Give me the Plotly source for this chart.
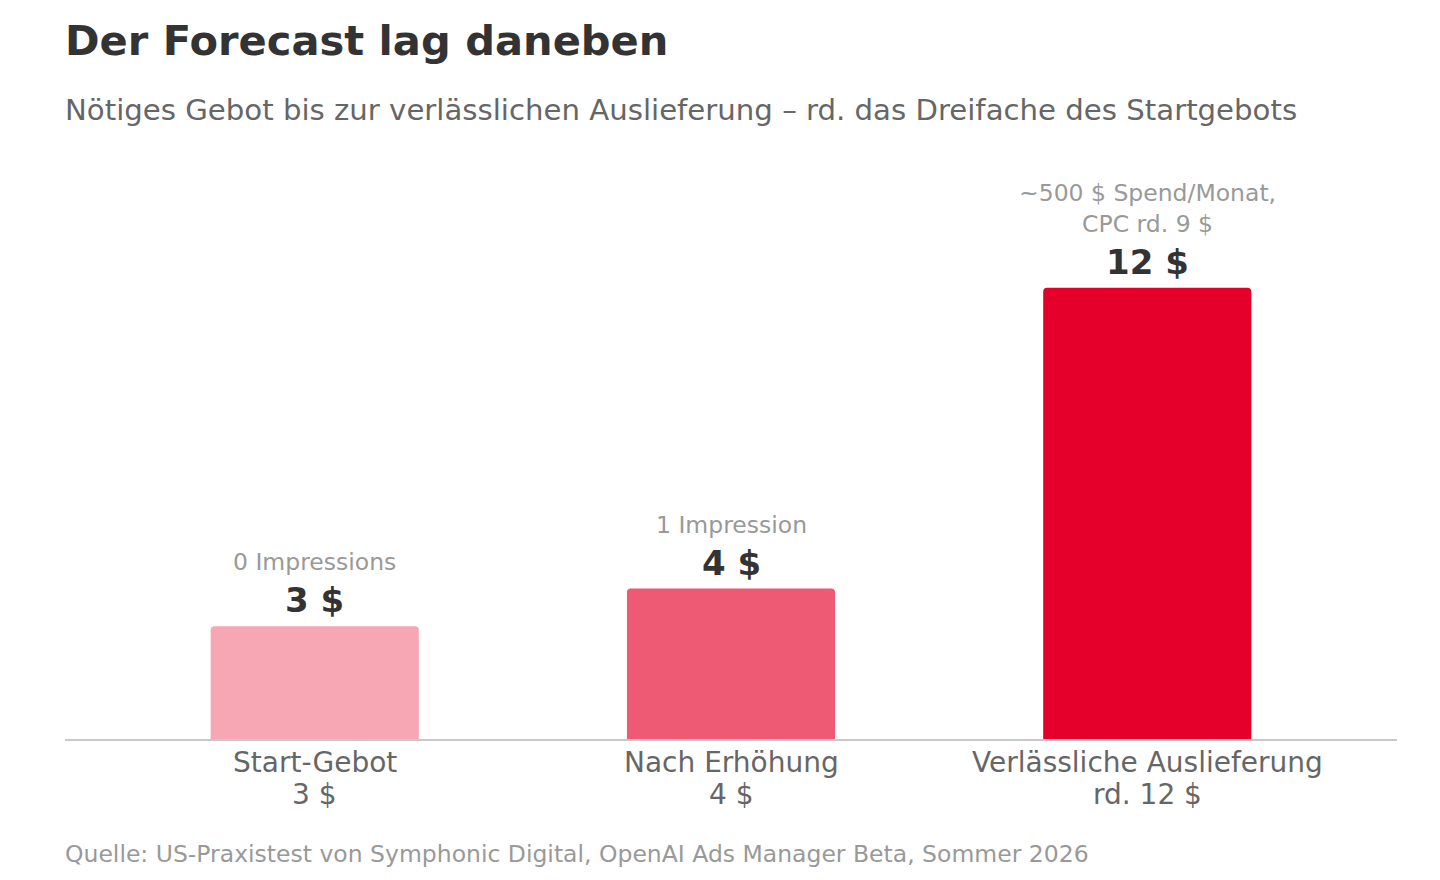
import plotly.graph_objects as go

categories = ["Start-Gebot", "Nach Erhöhung", "Verlässliche Auslieferung"]
category_sub = ["3 $", "4 $", "rd. 12 $"]
values = [3, 4, 12]
value_labels = ["3 $", "4 $", "12 $"]
notes = ["0 Impressions", "1 Impression", "~500 $ Spend/Monat,<br>CPC rd. 9 $"]
colors = ["#F7A6B4", "#EE5A73", "#E4002B"]

FONT = "DejaVu Sans"

fig = go.Figure(go.Bar(
    x=categories,
    y=values,
    marker_color=colors,
    marker_line_width=0,
    width=0.5,
    hoverinfo="skip",
))

annotations = []
for cat, sub, val, lab, note in zip(categories, category_sub, values, value_labels, notes):
    annotations.append(dict(
        x=cat, y=val, xref="x", yref="y", text="<b>" + lab + "</b>",
        showarrow=False, yanchor="bottom", yshift=4,
        font=dict(family=FONT, size=34, color="#333333"),
    ))
    annotations.append(dict(
        x=cat, y=val, xref="x", yref="y", text=note,
        showarrow=False, yanchor="bottom", yshift=48,
        font=dict(family=FONT, size=23.5, color="#999999"),
    ))
    # category label, two lines
    annotations.append(dict(
        x=cat, y=0, xref="x", yref="y", text=cat,
        showarrow=False, yanchor="middle", yshift=-23,
        font=dict(family=FONT, size=28, color="#666666"),
    ))
    annotations.append(dict(
        x=cat, y=0, xref="x", yref="y", text=sub,
        showarrow=False, yanchor="middle", yshift=-55,
        font=dict(family=FONT, size=28, color="#666666"),
    ))

# title, subtitle, source (paper coords relative to plot area 167..731 px)
annotations += [
    dict(x=0, y=(731 - 32) / 564, xref="paper", yref="paper", xanchor="left", yanchor="middle",
         xshift=-2, text="<b>Der Forecast lag daneben</b>", showarrow=False,
         font=dict(family=FONT, size=41.6, color="#333333")),
    dict(x=0, y=(731 - 102) / 564, xref="paper", yref="paper", xanchor="left", yanchor="middle",
         xshift=-2,
         text="Nötiges Gebot bis zur verlässlichen Auslieferung – rd. das Dreifache des Startgebots",
         showarrow=False, font=dict(family=FONT, size=29.2, color="#666666")),
    dict(x=0, y=(731 - 846) / 564, xref="paper", yref="paper", xanchor="left", yanchor="middle",
         xshift=-2,
         text="Quelle: US-Praxistest von Symphonic Digital, OpenAI Ads Manager Beta, Sommer 2026",
         showarrow=False, font=dict(family=FONT, size=23.5, color="#999999")),
]

fig.update_layout(
    width=1440, height=880,
    margin=dict(l=57, r=51, t=167, b=149),
    paper_bgcolor="white", plot_bgcolor="white",
    barcornerradius=4,
    showlegend=False,
    annotations=annotations,
    font=dict(family=FONT),
)
fig.update_xaxes(
    range=[-0.6, 2.6], showline=True, linecolor="#C8C8C8", linewidth=2,
    showgrid=False, ticks="", showticklabels=False,
)
fig.update_yaxes(range=[0, 15], visible=False)

fig.write_html("out.html")
